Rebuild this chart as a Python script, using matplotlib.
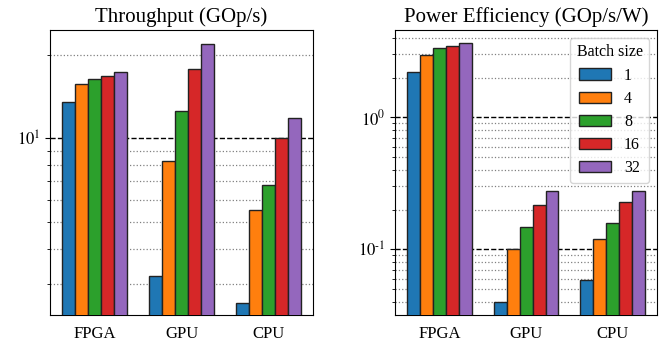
import matplotlib
matplotlib.use("Agg")
import matplotlib.pyplot as plt
import numpy as np
from matplotlib.ticker import NullFormatter, FuncFormatter

plt.rcParams["font.family"] = ["Liberation Serif", "DejaVu Serif"]
plt.rcParams["mathtext.fontset"] = "stix"
plt.rcParams["font.size"] = 12

devices = ["FPGA", "GPU", "CPU"]
batch_sizes = ["1", "4", "8", "16", "32"]

# throughput (GOp/s), one list per batch size, ordered FPGA, GPU, CPU
throughput = {
    "1": [13.5, 3.2, 2.55],
    "4": [15.7, 8.3, 5.5],
    "8": [16.3, 12.5, 6.8],
    "16": [16.7, 17.7, 10.0],
    "32": [17.3, 21.9, 11.8],
}

# power efficiency (GOp/s/W)
efficiency = {
    "1": [2.22, 0.04, 0.059],
    "4": [2.96, 0.10, 0.119],
    "8": [3.34, 0.148, 0.158],
    "16": [3.49, 0.217, 0.229],
    "32": [3.67, 0.278, 0.278],
}

colors = ["#1f77b4", "#ff7f0e", "#2ca02c", "#d62728", "#9467bd"]

fig = plt.figure(figsize=(6.65, 3.41), dpi=100)
ax1 = fig.add_axes([0.075, 0.076, 0.396, 0.836])
ax2 = fig.add_axes([0.594, 0.076, 0.394, 0.836])

x = np.arange(len(devices))
width = 0.15


def decade_label(v, pos):
    # plain hyphen for negative exponents, like the original figure
    e = int(round(np.log10(v)))
    if e < 0:
        return r"$10^{\text{-}%d}$" % (-e)
    return r"$10^{%d}$" % e


def draw(ax, data, title, ylim):
    for i, b in enumerate(batch_sizes):
        ax.bar(x + (i - 2) * width, data[b], width, color=colors[i],
               edgecolor="#222222", linewidth=1, label=b, zorder=3)
    ax.set_yscale("log")
    ax.set_ylim(*ylim)
    ax.set_xticks(x)
    ax.set_xticklabels(devices)
    ax.tick_params(axis="x", length=0, pad=8)
    ax.yaxis.set_major_formatter(FuncFormatter(decade_label))
    ax.yaxis.set_minor_formatter(NullFormatter())
    ax.grid(True, which="major", axis="y", linestyle="--", color="black",
            linewidth=1, zorder=0)
    ax.grid(True, which="minor", axis="y", linestyle=":", color="gray",
            linewidth=0.9, zorder=0)
    ax.set_axisbelow(True)
    ax.set_title(title, fontsize=15)


draw(ax1, throughput, "Throughput (GOp/s)", (2.31, 24.5))
draw(ax2, efficiency, "Power Efficiency (GOp/s/W)", (0.0318, 4.58))

ax2.legend(title="Batch size", loc="upper right", fontsize=11.5,
           title_fontsize=11.5, labelspacing=0.45)

fig.savefig("out.png", dpi=100)
